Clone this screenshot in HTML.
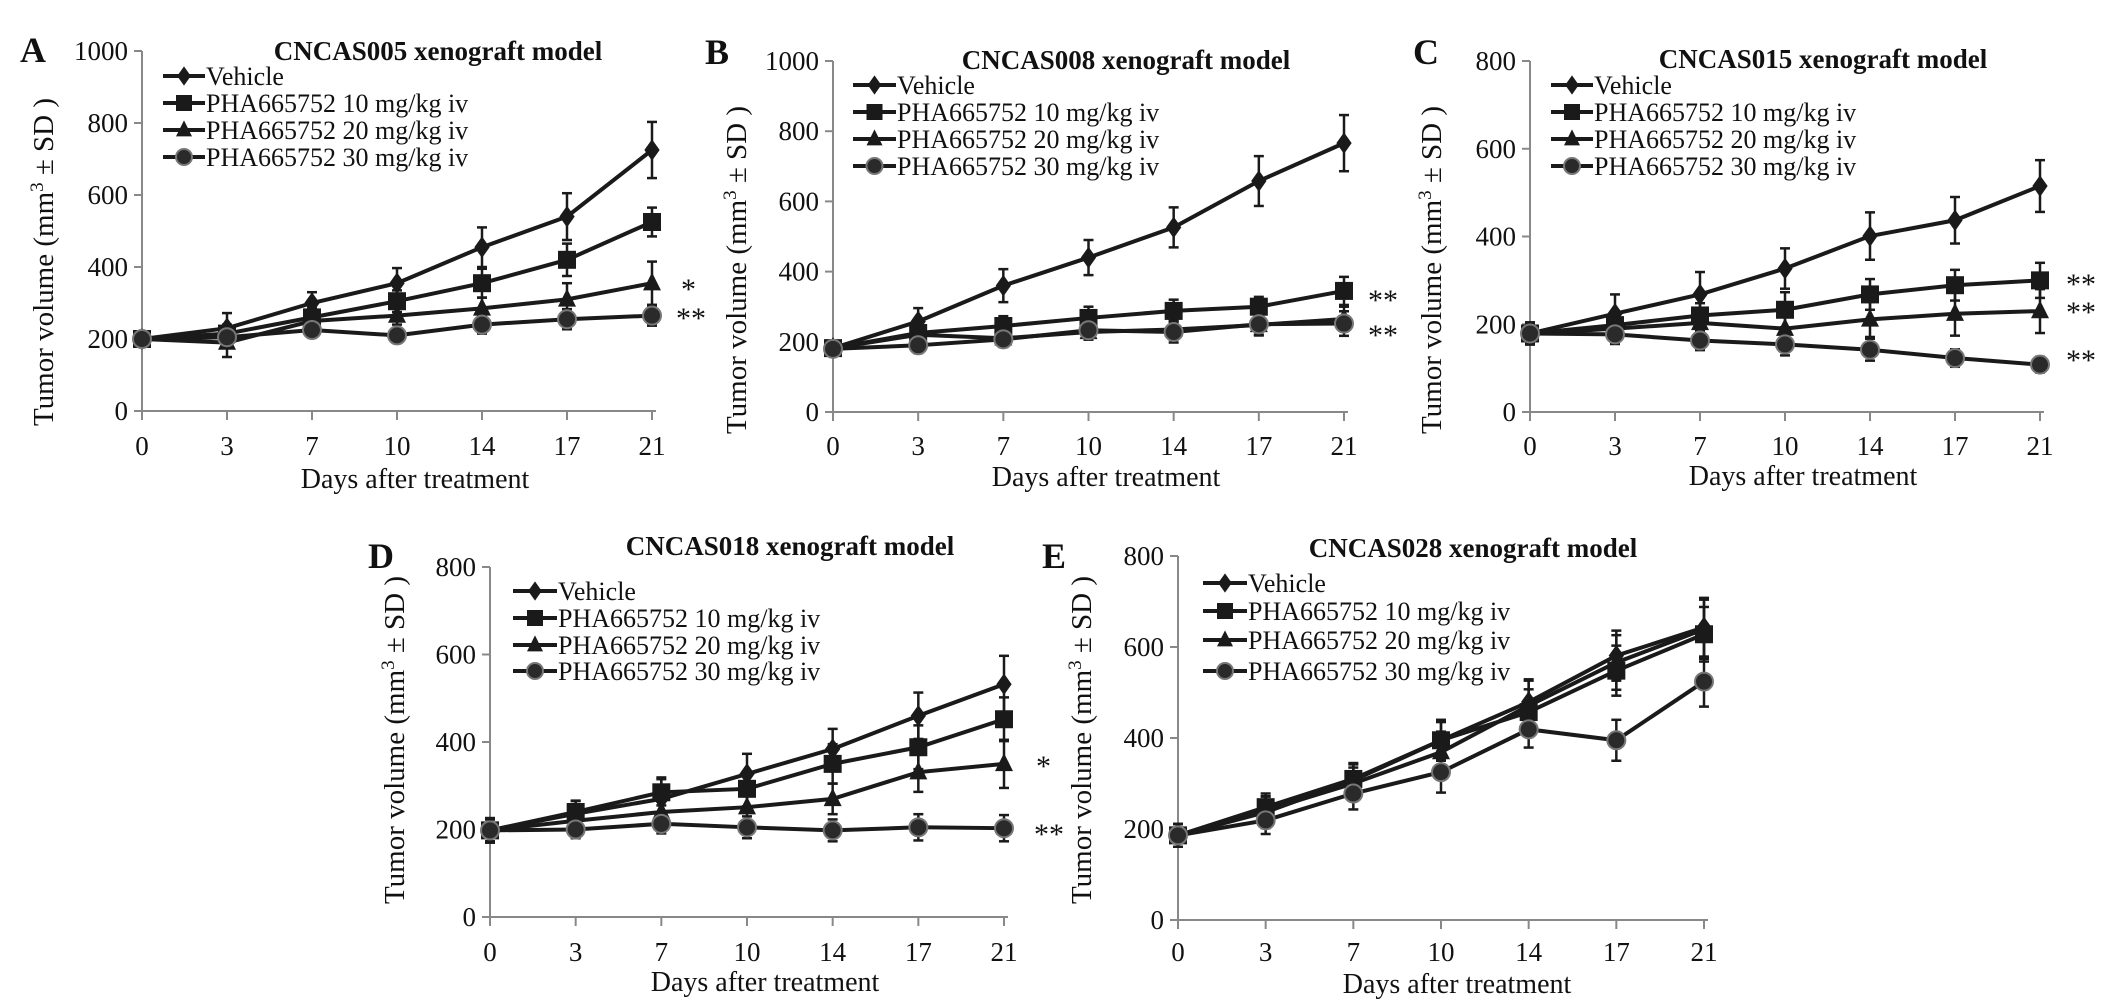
<!DOCTYPE html>
<html><head><meta charset="utf-8"><style>
html,body{margin:0;padding:0;background:#fff}
svg{display:block}
text{font-family:"Liberation Serif",serif;fill:#111}
</style></head><body>
<svg id="fig" width="2126" height="1008" viewBox="0 0 2126 1008" xmlns="http://www.w3.org/2000/svg"></svg>
<script>
const dayLabels = ['0','3','7','10','14','17','21'];
const seriesNames = ['Vehicle','PHA665752 10 mg/kg iv','PHA665752 20 mg/kg iv','PHA665752 30 mg/kg iv'];
// Panel A
const aVehicle = [200,230,300,355,455,540,725];
const aVehicleSD = [15,42,30,42,55,65,78];
const a10 = [200,215,260,305,355,420,525];
const a10SD = [15,25,25,30,40,45,40];
const a20 = [200,190,250,265,285,310,355];
const a20SD = [15,40,20,25,30,45,60];
const a30 = [200,205,225,210,240,255,265];
const a30SD = [15,20,20,20,25,28,28];
// Panel B
const bVehicle = [182,258,360,440,526,658,766];
const bVehicleSD = [20,38,47,50,57,71,80];
const b10 = [182,225,245,268,288,300,345];
const b10SD = [20,25,28,32,32,28,40];
const b20 = [182,220,210,228,235,248,265];
const b20SD = [20,25,22,22,25,30,35];
const b30 = [180,190,207,233,228,250,252];
const b30SD = [20,22,22,25,30,30,35];
// Panel C
const cVehicle = [179,224,268,327,401,437,515];
const cVehicleSD = [25,44,51,46,54,53,59];
const c10 = [179,198,220,233,268,289,300];
const c10SD = [25,25,28,40,35,35,40];
const c20 = [179,190,203,190,211,224,230];
const c20SD = [25,25,30,30,40,50,50];
const c30 = [179,177,163,154,142,123,108];
const c30SD = [20,22,22,25,25,20,18];
// Panel D
const dVehicle = [198,236,270,327,384,460,532];
const dVehicleSD = [28,30,49,46,46,53,65];
const d10 = [198,240,285,293,350,388,452];
const d10SD = [28,25,30,40,45,50,50];
const d20 = [198,220,240,251,270,331,350];
const d20SD = [25,25,30,30,35,45,55];
const d30 = [198,200,213,205,198,205,203];
const d30SD = [25,20,22,25,25,30,30];
// Panel E
const eVehicle = [186,237,307,395,479,581,643];
const eVehicleSD = [25,35,35,45,50,55,65];
const e10 = [186,248,310,395,457,548,628];
const e10SD = [25,30,35,40,50,55,60];
const e20 = [186,241,300,369,471,566,639];
const e20SD = [25,30,35,45,55,60,65];
const e30 = [186,219,278,325,419,395,524];
const e30SD = [25,30,35,45,40,45,55];

const NS='http://www.w3.org/2000/svg';
const svg=document.getElementById('fig');
function mk(tag,attrs,parent){const e=document.createElementNS(NS,tag);for(const k in attrs)e.setAttribute(k,attrs[k]);(parent||svg).appendChild(e);return e;}
function txt(s,attrs,parent){const e=mk('text',attrs,parent);e.textContent=s;return e;}

function marker(g,kind,x,y,s){
  let e;
  if(kind===0){e=mk('polygon',{points:`${x},${y-s*1.2} ${x+s*0.85},${y} ${x},${y+s*1.2} ${x-s*0.85},${y}`,fill:'#1a1a1a'},g);}
  else if(kind===1){e=mk('rect',{x:x-s,y:y-s,width:2*s,height:2*s,fill:'#1a1a1a'},g);}
  else if(kind===2){e=mk('polygon',{points:`${x},${y-s*1.2} ${x+s},${y+s*0.8} ${x-s},${y+s*0.8}`,fill:'#1a1a1a'},g);}
  else {e=mk('circle',{cx:x,cy:y,r:s,fill:'#2a2a2a',stroke:'#777','stroke-width':2},g);}
  return e;
}

function panel(c){
  const g=mk('g',{});
  
  
  const xs=i=>c.x0+i*(c.x1-c.x0)/(dayLabels.length-1);
  const ys=v=>c.yb-v/c.ymax*(c.yb-c.yt);
  const ya=mk('line',{x1:c.x0,y1:c.yt,x2:c.x0,y2:c.yb,stroke:'#888','stroke-width':2},g);
  
  
  const xa=mk('line',{x1:c.x0-8,y1:c.yb,x2:c.x1+4,y2:c.yb,stroke:'#888','stroke-width':2},g);
  
  
  for(let v=0;v<=c.ymax;v+=200){
    mk('line',{x1:c.x0-8,y1:ys(v),x2:c.x0,y2:ys(v),stroke:'#888','stroke-width':2},g);
    const t=txt(String(v),{x:c.x0-14,y:ys(v)+9,'font-size':27,'text-anchor':'end'},g);
    
    
  }
  dayLabels.forEach((d,i)=>{
    mk('line',{x1:xs(i),y1:c.yb,x2:xs(i),y2:c.yb+9,stroke:'#888','stroke-width':2},g);
    const t=txt(d,{x:xs(i),y:c.tickY,'font-size':27,'text-anchor':'middle'},g);
    
    
  });
  const xl=txt('Days after treatment',{x:c.xlX,y:c.xlY,'font-size':28,'text-anchor':'middle'},g);
  
  
  const yl=txt('',{x:0,y:0,'font-size':29,'text-anchor':'middle',transform:`translate(${c.ylX},${c.ylY}) rotate(-90)`},g);
  yl.innerHTML='Tumor volume (mm<tspan dy="-10" font-size="19">3</tspan><tspan dy="10"> ± SD )</tspan>';
  
  
  const ti=txt(c.title,{x:c.tX,y:c.tY,'font-size':27,'font-weight':'bold','text-anchor':'middle'},g);
  
  
  const lt=txt(c.id,{x:c.lX,y:c.lY,'font-size':36,'font-weight':'bold'},g);
  
  
  c.series.forEach((s,k)=>{
    const sg=mk('g',{},g);
    
    
    s.v.forEach((v,i)=>{
      const x=xs(i),sd=s.sd[i];
      mk('line',{x1:x,y1:ys(v-sd),x2:x,y2:ys(v+sd),stroke:'#1a1a1a','stroke-width':2.5},sg);
      mk('line',{x1:x-5,y1:ys(v+sd),x2:x+5,y2:ys(v+sd),stroke:'#1a1a1a','stroke-width':2.5},sg);
      mk('line',{x1:x-5,y1:ys(v-sd),x2:x+5,y2:ys(v-sd),stroke:'#1a1a1a','stroke-width':2.5},sg);
    });
    const p=mk('polyline',{points:s.v.map((v,i)=>xs(i)+','+ys(v)).join(' '),fill:'none',stroke:'#1a1a1a','stroke-width':4},sg);
    
    
    s.v.forEach((v,i)=>{
      const m=marker(sg,k,xs(i),ys(v),9);
      
      
    });
  });
  const lg=mk('g',{},g);
  
  
  seriesNames.forEach((n,k)=>{
    const y=c.legY[k];
    mk('line',{x1:c.legX0,y1:y,x2:c.legX1,y2:y,stroke:'#1a1a1a','stroke-width':4},lg);
    marker(lg,k,(c.legX0+c.legX1)/2,y,8);
    const t=txt(n,{x:c.legX1+1,y:y+9,'font-size':26},lg);
    
    
  });
  c.stars.forEach(s=>{
    const t=txt(s[0],{x:s[1],y:s[2]+12,'font-size':30},g);
    
    
  });
}

panel({id:'A',title:'CNCAS005 xenograft model',x0:142,x1:652,yt:51,yb:411,ymax:1000,tickY:455,xlX:415,xlY:488,ylX:53,ylY:262,tX:438,tY:60,lX:20,lY:62,
  legX0:163,legX1:205,legY:[76,103,130,157],
  stars:[['*',681,287],['**',676,316]],
  series:[{v:aVehicle,sd:aVehicleSD},{v:a10,sd:a10SD},{v:a20,sd:a20SD},{v:a30,sd:a30SD}]});
panel({id:'B',title:'CNCAS008 xenograft model',x0:833,x1:1344,yt:61,yb:412,ymax:1000,tickY:455,xlX:1106,xlY:486,ylX:746,ylY:270,tX:1126,tY:69,lX:705,lY:64,
  legX0:853,legX1:896,legY:[85,112,139,166],
  stars:[['**',1368,298],['**',1368,333]],
  series:[{v:bVehicle,sd:bVehicleSD},{v:b10,sd:b10SD},{v:b20,sd:b20SD},{v:b30,sd:b30SD}]});
panel({id:'C',title:'CNCAS015 xenograft model',x0:1530,x1:2040,yt:61,yb:412,ymax:800,tickY:455,xlX:1803,xlY:485,ylX:1441,ylY:270,tX:1823,tY:68,lX:1413,lY:64,
  legX0:1551,legX1:1593,legY:[85,112,139,166],
  stars:[['**',2066,282],['**',2066,310],['**',2066,358]],
  series:[{v:cVehicle,sd:cVehicleSD},{v:c10,sd:c10SD},{v:c20,sd:c20SD},{v:c30,sd:c30SD}]});
panel({id:'D',title:'CNCAS018 xenograft model',x0:490,x1:1004,yt:567,yb:917,ymax:800,tickY:961,xlX:765,xlY:991,ylX:404,ylY:740,tX:790,tY:555,lX:368,lY:568,
  legX0:513,legX1:557,legY:[591,618,645,671],
  stars:[['*',1036,764],['**',1034,832]],
  series:[{v:dVehicle,sd:dVehicleSD},{v:d10,sd:d10SD},{v:d20,sd:d20SD},{v:d30,sd:d30SD}]});
panel({id:'E',title:'CNCAS028 xenograft model',x0:1178,x1:1704,yt:556,yb:920,ymax:800,tickY:961,xlX:1457,xlY:993,ylX:1091,ylY:740,tX:1473,tY:557,lX:1042,lY:568,
  legX0:1203,legX1:1247,legY:[583,611,640,671],
  stars:[],
  series:[{v:eVehicle,sd:eVehicleSD},{v:e10,sd:e10SD},{v:e20,sd:e20SD},{v:e30,sd:e30SD}]});
</script>
</body></html>
